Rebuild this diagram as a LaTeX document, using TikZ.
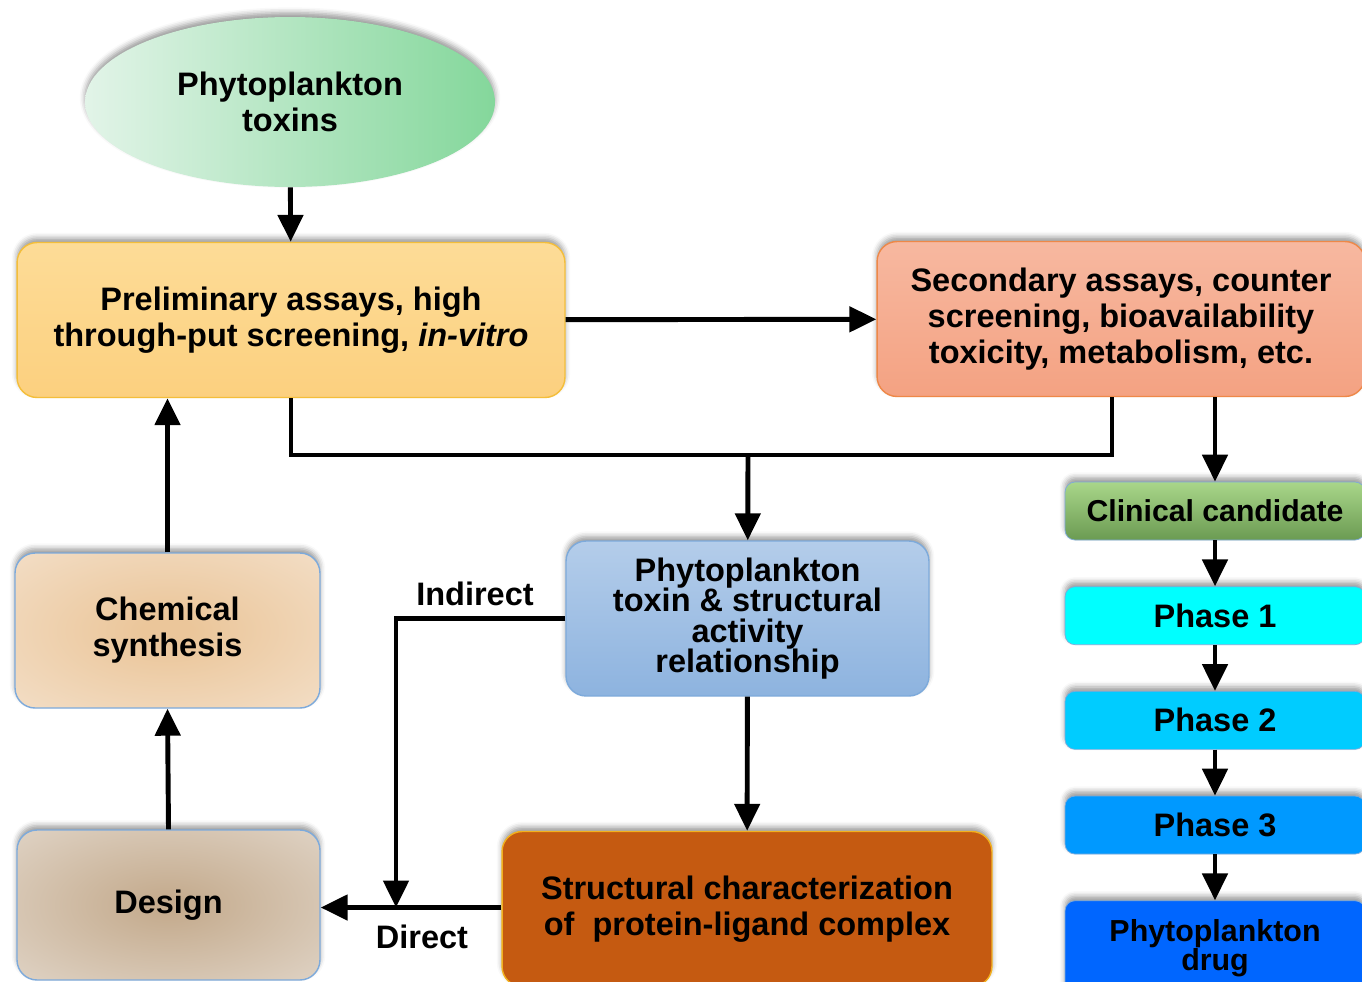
\documentclass[tikz,border=0pt]{standalone}
\usepackage{fontspec}
\setmainfont{Liberation Sans}
\usepackage{tikz}
\usetikzlibrary{positioning, arrows.meta, shapes.geometric, calc, shadows.blur}
\definecolor{ink}{HTML}{000000}
\definecolor{toxinlight}{HTML}{E2F4E8}
\definecolor{toxindark}{HTML}{84D79B}
\definecolor{prelimtop}{HTML}{FDDC97}
\definecolor{prelimbot}{HTML}{FCD07F}
\definecolor{prelimedge}{HTML}{F4BE3A}
\definecolor{secondtop}{HTML}{F7B8A0}
\definecolor{secondbot}{HTML}{F4A282}
\definecolor{secondedge}{HTML}{EE8848}
\definecolor{edgeblue}{HTML}{7DAADB}
\definecolor{sartop}{HTML}{B4CDEA}
\definecolor{sarbot}{HTML}{8DB3DF}
\definecolor{xtalfill}{HTML}{C55A11}
\definecolor{xtaledge}{HTML}{F2B01E}
\definecolor{synthin}{HTML}{EBC69A}
\definecolor{synthout}{HTML}{F6E8D9}
\definecolor{designin}{HTML}{C5AC8F}
\definecolor{designout}{HTML}{EAE3DB}
\definecolor{clintop}{HTML}{A9D68A}
\definecolor{clinbot}{HTML}{6B9B52}
\definecolor{phaseone}{HTML}{00FFFF}
\definecolor{phasetwo}{HTML}{00CCFF}
\definecolor{phasethree}{HTML}{0099FF}
\definecolor{phasedrug}{HTML}{0066FF}
\pgfdeclareradialshading{synthglow}{\pgfpoint{0bp}{0bp}}{%
  color(0bp)=(synthin); color(4bp)=(synthin); color(50bp)=(synthout); color(71bp)=(synthout)}
\pgfdeclareradialshading{designglow}{\pgfpoint{0bp}{0bp}}{%
  color(0bp)=(designin); color(3bp)=(designin); color(50bp)=(designout); color(71bp)=(designout)}
\tikzset{
  shadow/.style   = {blur shadow={shadow xshift=0pt, shadow yshift=2.5pt,
                     shadow blur radius=3pt, shadow opacity=40}},
  toxin/.style    = {ellipse, shadow, left color=toxinlight, right color=toxindark,
                     minimum width=8.2cm, minimum height=3.4cm, align=center,
                     font=\fontsize{18.5}{20.4}\selectfont\bfseries},
  bigbox/.style   = {rectangle, rounded corners=0.4cm, shadow, thick,
                     minimum width=10.96cm, minimum height=3.1cm, align=center,
                     font=\fontsize{18.5}{20.4}\selectfont\bfseries},
  prelim/.style   = {bigbox, draw=prelimedge, top color=prelimtop, bottom color=prelimbot},
  second/.style   = {bigbox, draw=secondedge, top color=secondtop, bottom color=secondbot,
                     minimum width=9.76cm},
  sar/.style      = {bigbox, draw=edgeblue, top color=sartop, bottom color=sarbot,
                     minimum width=7.26cm, font=\fontsize{18.5}{17.4}\selectfont\bfseries},
  xtal/.style     = {bigbox, draw=xtaledge, fill=xtalfill, minimum width=9.8cm},
  synth/.style    = {bigbox, draw=edgeblue, shade, shading=synthglow, minimum width=6.1cm},
  design/.style   = {bigbox, draw=edgeblue, shade, shading=designglow,
                     minimum width=6.06cm, minimum height=3.0cm},
  phase/.style    = {rectangle, rounded corners=0.2cm, shadow, draw=edgeblue,
                     minimum width=6cm, minimum height=1.16cm, align=center,
                     font=\fontsize{18.5}{17}\selectfont\bfseries},
  tag/.style      = {font=\fontsize{18.5}{20.4}\selectfont\bfseries},
  ln/.style       = {line width=2.8pt, draw=ink},
  ar/.style       = {-{Triangle[length=5.4mm,width=5mm]}, line width=2.8pt, draw=ink},
}
\begin{document}
\begin{tikzpicture}[x=0.02cm, y=-0.02cm, node distance=0.92cm]
  \useasboundingbox (0,0) rectangle (1362,981);

  \node[toxin] (tox) at (290,102) {Phytoplankton\\toxins};
  \node[prelim] (pre) at (291,320) {Preliminary assays, high\\through-put screening, \textit{in-vitro}};
  \node[second] (sec) at (1121,319) {Secondary assays, counter\\screening, bioavailability\\toxicity, metabolism, etc.};
  \node[sar] (sar) at (747.5,618.5) {Phytoplankton\\toxin \& structural\\activity\\relationship};
  \node[xtal] (xtal) at (747,909) {Structural characterization\\of~ protein-ligand complex};
  \node[synth] (chem) at (167.5,630.5) {Chemical\\synthesis};
  \node[design] (dsgn) at (168.5,905) {Design};

  \node[phase, top color=clintop, bottom color=clinbot,
        font=\fontsize{17.2}{17}\selectfont\bfseries] (clin) at (1215,511) {Clinical candidate};
  \node[phase, fill=phaseone, below=of clin] (ph1) {Phase 1};
  \node[phase, fill=phasetwo, below=of ph1] (ph2) {Phase 2};
  \node[phase, fill=phasethree, below=of ph2] (ph3) {Phase 3};
  \node[phase, fill=phasedrug, below=of ph3, minimum height=1.9cm,
        font=\fontsize{17.3}{17}\selectfont\bfseries] (drug) {Phytoplankton\\drug};

  \coordinate (bus) at (748,455);
  \coordinate (sectap) at ([xshift=-0.18cm]sec.south);
  \coordinate (jn) at (396,907.5);

  \draw[ar] (tox) -- (pre);
  \draw[ar] (pre) -- (sec);
  \draw[ln] (pre.south) |- (bus) -| (sectap);
  \draw[ar] (bus) -- (sar);
  \draw[ar] (sec.south -| clin.north) -- (clin);
  \draw[ar] (clin) -- (ph1);
  \draw[ar] (ph1) -- (ph2);
  \draw[ar] (ph2) -- (ph3);
  \draw[ar] (ph3) -- (drug);
  \draw[ar] (sar) -- (xtal);
  \draw[ar] (sar.west) -| (jn);
  \draw[ar] (jn -| xtal.west) -- (jn -| dsgn.east);
  \draw[ar] (dsgn.north) -- (chem.south);
  \draw[ar] (chem.north) -- (chem.north |- pre.south);

  \node[tag] (ind) at (475,594) {Indirect};
  \node[tag] (dir) at (422,937) {Direct};

\end{tikzpicture}
\end{document}
